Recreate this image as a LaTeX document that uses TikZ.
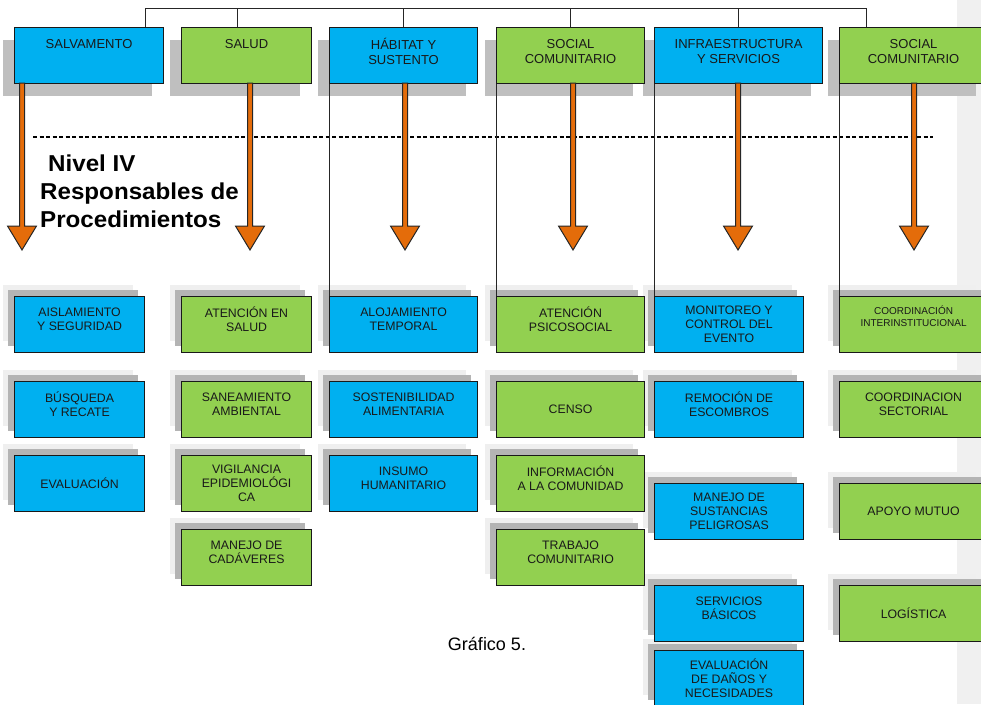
\documentclass[tikz,border=0pt]{standalone}
\usepackage{fontspec}
\setmainfont{Liberation Sans}
\newfontfamily\titlefont[FakeStretch=1.05]{Liberation Sans}
\usetikzlibrary{shadows}

\definecolor{boxblue}{HTML}{00B0F0}
\definecolor{boxgreen}{HTML}{92D050}
\definecolor{shadetop}{HTML}{BFBFBF}
\definecolor{shadedark}{HTML}{B4B4B4}
\definecolor{shadelight}{HTML}{EFEFEF}
\definecolor{arroworange}{HTML}{E46C0A}
\definecolor{sidebar}{HTML}{F0F0F0}

\tikzset{
  box/.style={draw=black!90, line width=1.1pt, anchor=north west, align=center,
    minimum height=56pt, inner sep=1pt, text=black!90},
  headbox/.style={box, font=\fontsize{13}{15}\selectfont, text depth=24pt,
    general shadow={fill=shadetop, shadow xshift=-12pt, shadow yshift=-12pt}},
  headbox two/.style={headbox, text depth=9pt},
  itembox/.style={box, font=\fontsize{12.3}{14}\selectfont,
    general shadow={fill=shadelight, shadow xshift=-12pt, shadow yshift=12pt},
    general shadow={fill=shadedark, shadow xshift=-7pt, shadow yshift=7pt}},
  itembox two/.style={itembox, text depth=10pt},
  skybox/.style={fill=boxblue},
  leafbox/.style={fill=boxgreen},
  link/.style={draw=black!85, line width=1pt},
  orangearrow/.style={draw=black!85, line width=1pt, fill=arroworange, line join=miter}
}

\begin{document}
\begin{tikzpicture}[x=1pt, y=-1pt]
    \path[use as bounding box, clip] (0,0) rectangle (981,704);
    \fill[sidebar] (957,0) rectangle (981,704);

    % Nivel III
    \node[headbox, skybox, minimum width=149pt] (salv) at (14,27) {SALVAMENTO};
    \node[headbox, leafbox, minimum width=130pt] (salud) at (181,27) {SALUD};
    \node[headbox two, skybox, minimum width=148pt] (habitat) at (329,27) {HÁBITAT Y\\SUSTENTO};
    \node[headbox two, skybox, minimum width=168pt] (infra) at (654,27) {INFRAESTRUCTURA\\Y SERVICIOS};
    \node[headbox two, leafbox, minimum width=148pt] (social) at (496,27) {SOCIAL\\COMUNITARIO};
    \node[headbox two, leafbox, minimum width=148pt] (socialb) at (839,27) {SOCIAL\\COMUNITARIO};

    % bus
    \draw[link] ([xshift=-19pt]salv.north east) -- ++(0,-19) -| ([xshift=27pt]socialb.north west);
    \foreach \n/\dx in {salud/-9, habitat/0, social/0, infra/0}
        \draw[link] ([xshift=\dx pt]\n.north) -- ++(0,-19);

    % divider
    \draw[line width=1.2pt, dash pattern=on 4pt off 2.5pt] (33,137) -- (933,137);

    % arrows
    \foreach \x in {22,250,405,573,738,914}
        \draw[orangearrow] (\x-2.5,83) -- (\x+2.5,83) -- (\x+2.5,226) -- (\x+14.5,226)
            -- (\x,250) -- (\x-14.5,226) -- (\x-2.5,226) -- cycle;

    \node[font=\titlefont\bfseries\fontsize{23}{28}\selectfont, align=left, anchor=north west,
        inner sep=0pt] (nivel) at (40,155) {\hspace*{8pt}Nivel IV\\Responsables de\\Procedimientos};

    % Nivel IV - salvamento
    \node[itembox, skybox, minimum width=130pt] (evalua) at (14,455) {EVALUACIÓN};
    \node[itembox two, skybox, minimum width=130pt] (busq) at (14,381) {BÚSQUEDA\\Y RECATE};
    \node[itembox two, skybox, minimum width=130pt] (aisla) at (14,296) {AISLAMIENTO\\Y SEGURIDAD};

    % salud
    \node[itembox two, leafbox, minimum width=130pt] (cadav) at (181,529) {MANEJO DE\\CADÁVERES};
    \node[itembox, leafbox, minimum width=130pt] (vigil) at (181,455) {VIGILANCIA\\EPIDEMIOLÓGI\\CA};
    \node[itembox two, leafbox, minimum width=130pt] (sanea) at (181,381) {SANEAMIENTO\\AMBIENTAL};
    \node[itembox two, leafbox, minimum width=130pt] (atsalud) at (181,296) {ATENCIÓN EN\\SALUD};

    % habitat
    \node[itembox two, skybox, minimum width=148pt] (insumo) at (329,455) {INSUMO\\HUMANITARIO};
    \node[itembox two, skybox, minimum width=148pt] (sosten) at (329,381) {SOSTENIBILIDAD\\ALIMENTARIA};
    \node[itembox two, skybox, minimum width=148pt] (aloj) at (329,296) {ALOJAMIENTO\\TEMPORAL};

    % infraestructura
    \node[itembox, skybox, minimum width=149pt] (danos) at (654,650) {EVALUACIÓN\\DE DAÑOS Y\\NECESIDADES};
    \node[itembox two, skybox, minimum width=149pt] (basicos) at (654,585) {SERVICIOS\\BÁSICOS};
    \node[itembox, skybox, minimum width=149pt] (sustan) at (654,483) {MANEJO DE\\SUSTANCIAS\\PELIGROSAS};
    \node[itembox two, skybox, minimum width=149pt] (remoc) at (654,381) {REMOCIÓN DE\\ESCOMBROS};
    \node[itembox, skybox, minimum width=149pt] (monit) at (654,296) {MONITOREO Y\\CONTROL DEL\\EVENTO};

    % social comunitario
    \node[itembox two, leafbox, minimum width=148pt] (trabajo) at (496,529) {TRABAJO\\COMUNITARIO};
    \node[itembox two, leafbox, minimum width=148pt] (inform) at (496,455) {INFORMACIÓN\\A LA COMUNIDAD};
    \node[itembox, leafbox, minimum width=148pt] (censo) at (496,381) {CENSO};
    \node[itembox two, leafbox, minimum width=148pt] (psico) at (496,296) {ATENCIÓN\\PSICOSOCIAL};

    % social comunitario (2)
    \node[itembox, leafbox, minimum width=148pt] (logist) at (839,585) {LOGÍSTICA};
    \node[itembox, leafbox, minimum width=148pt] (mutuo) at (839,483) {APOYO MUTUO};
    \node[itembox two, leafbox, minimum width=148pt] (sector) at (839,381) {COORDINACION\\SECTORIAL};
    \node[itembox, leafbox, minimum width=148pt, font=\fontsize{10}{12}\selectfont, text depth=17pt]
        (interinst) at (839,296) {COORDINACIÓN\\INTERINSTITUCIONAL};

    % left edge links
    \draw[link] (habitat.south west) -- (aloj.north west);
    \draw[link] (social.south west) -- (psico.north west);
    \draw[link] (infra.south west) -- (monit.north west);
    \draw[link] (socialb.south west) -- (interinst.north west);

    \node[font=\fontsize{18}{21}\selectfont] (grafico) at (487,644) {Gráfico 5.};
\end{tikzpicture}
\end{document}
